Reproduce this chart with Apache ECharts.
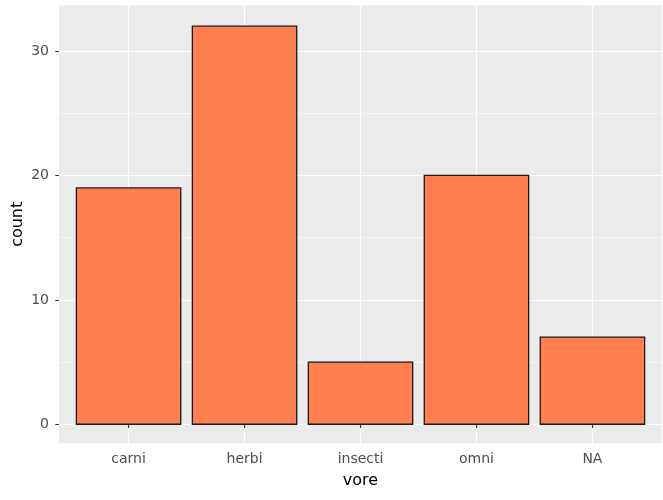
<!DOCTYPE html>
<html>
<head>
<meta charset="utf-8">
<script src="https://cdn.jsdelivr.net/npm/echarts@6/dist/echarts.min.js"></script>
<style>html,body{margin:0;padding:0;background:#fff}#c{width:663px;height:500px}</style>
</head>
<body>
<div id="c"></div>
<script>
const categories = ['carni', 'herbi', 'insecti', 'omni', 'NA'];
const counts = [19, 32, 5, 20, 7];
const yMajorTicks = [0, 10, 20, 30];
const yMinorTicks = [5, 15, 25];
const xPositions = [1, 2, 3, 4, 5];

const chart = echarts.init(document.getElementById('c'), null, {renderer: 'canvas'});
const font = '"DejaVu Sans", sans-serif';
const data = counts.map((v, i) => [xPositions[i], v]);

chart.setOption({
  animation: false,
  backgroundColor: '#ffffff',
  grid: {left: 59, right: 1, top: 5.3, bottom: 56.7, show: true, backgroundColor: '#EBEBEB', borderWidth: 0, containLabel: false, outerBoundsMode: 'none'},
  xAxis: {
    type: 'value', min: 0.4, max: 5.6,
    axisLine: {show: false},
    axisTick: {show: true, customValues: xPositions, length: 3.7, lineStyle: {color: '#333333', width: 1.1}},
    axisLabel: {customValues: xPositions, formatter: v => categories[Math.round(v) - 1] || '', color: '#4D4D4D', fontSize: 14, fontFamily: font, margin: 9},
    splitLine: {show: true, lineStyle: {color: '#ffffff', width: 1.1}},
    name: 'vore', nameLocation: 'middle', nameGap: 30, nameMoveOverlap: false,
    nameTextStyle: {color: '#000000', fontSize: 16, fontFamily: font}
  },
  yAxis: [{
    type: 'value', min: -1.53, max: 33.68,
    axisLine: {show: false},
    axisTick: {show: true, customValues: yMajorTicks, length: 3.7, lineStyle: {color: '#333333', width: 1.1}},
    axisLabel: {customValues: yMajorTicks, color: '#4D4D4D', fontSize: 14, fontFamily: font, margin: 10},
    splitLine: {show: true, lineStyle: {color: '#ffffff', width: 1.1}},
    name: 'count', nameLocation: 'middle', nameGap: 33, nameRotate: 90, nameMoveOverlap: false,
    nameTextStyle: {color: '#000000', fontSize: 16, fontFamily: font}
  }, {
    type: 'value', min: -1.53, max: 33.68,
    axisLine: {show: false},
    axisTick: {show: false, customValues: yMinorTicks},
    axisLabel: {show: false, customValues: yMinorTicks},
    splitLine: {show: true, lineStyle: {color: '#ffffff', width: 0.55}}
  }],
  series: [{
    type: 'custom',
    data: data,
    encode: {x: 0, y: 1},
    renderItem: function (params, api) {
      const x = api.value(0), y = api.value(1);
      const p1 = api.coord([x - 0.45, y]);
      const p2 = api.coord([x + 0.45, 0]);
      return {
        type: 'rect',
        shape: {x: p1[0], y: p1[1], width: p2[0] - p1[0], height: p2[1] - p1[1]},
        style: {fill: '#FF7F50', stroke: '#1A1A1A', lineWidth: 1.3}
      };
    }
  }]
});
</script>
</body>
</html>
